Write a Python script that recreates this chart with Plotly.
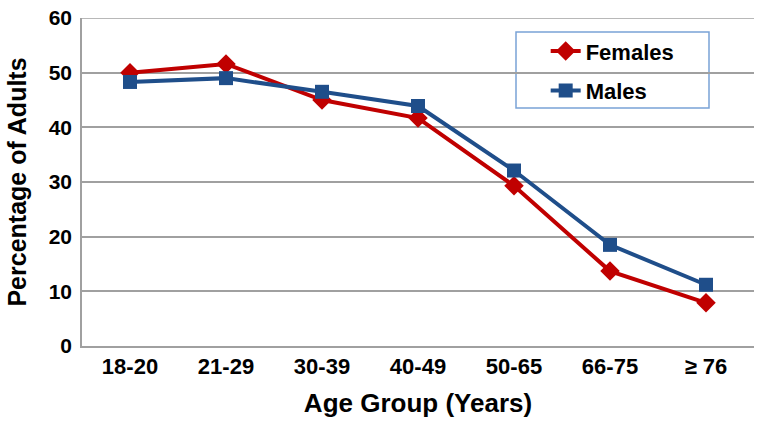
import plotly.graph_objects as go

age_groups = ["18-20", "21-29", "30-39", "40-49", "50-65", "66-75", "≥ 76"]
females = [50.0, 51.6, 45.0, 41.7, 29.3, 13.7, 7.9]
males = [48.3, 49.0, 46.5, 43.9, 32.1, 18.5, 11.2]
y_ticks = [0, 10, 20, 30, 40, 50, 60]

red = "#c00000"
blue = "#1f4e8a"
grid = "#a0a0a0"
font_family = "Liberation Sans, Arial, sans-serif"

fig = go.Figure()
fig.add_trace(go.Scatter(
    x=age_groups, y=females, name="Females", mode="lines+markers",
    line=dict(color=red, width=4),
    marker=dict(symbol="diamond", size=15, color=red),
    legendgroup="f",
))
fig.add_trace(go.Scatter(
    x=age_groups, y=males, name="Males", mode="lines+markers",
    line=dict(color=blue, width=4),
    marker=dict(symbol="square", size=14, color=blue),
    legendgroup="m",
))

fig.update_layout(
    width=764, height=424,
    margin=dict(l=82, r=10, t=18, b=78),
    paper_bgcolor="white", plot_bgcolor="white",
    font=dict(family=font_family, color="black"),
    showlegend=True,
    legend=dict(
        x=0.69, y=0.963, xanchor="left", yanchor="top",
        bgcolor="rgba(0,0,0,0)", borderwidth=0,
        font=dict(size=22, family=font_family, color="black", weight="bold"),
        tracegroupgap=8,
    ),
    xaxis=dict(
        type="category",
        range=[-0.5, 6.5],
        automargin=False,
        showgrid=False,
        showline=True, linecolor=grid, linewidth=1.5,
        ticks="", tickfont=dict(size=22, weight="bold"),
        title=dict(text="Age Group (Years)", font=dict(size=26, weight="bold"), standoff=16),
        zeroline=False,
    ),
    yaxis=dict(
        range=[0, 60],
        tickmode="array", tickvals=y_ticks,
        automargin=False,
        ticklabeloverflow="allow",
        showgrid=True, gridcolor=grid, gridwidth=1.5,
        showline=True, linecolor=grid, linewidth=1.5,
        ticks="", ticklabelstandoff=4,
        tickfont=dict(size=21, weight="bold"),
        title=dict(text="Percentage of Adults", font=dict(size=25, weight="bold"), standoff=15),
        zeroline=False,
    ),
    shapes=[
        dict(
            type="line", xref="paper", yref="y",
            x0=0, x1=1, y0=y_ticks[-1], y1=y_ticks[-1],
            line=dict(color=grid, width=1.5), layer="below",
        ),
        dict(
            type="rect", xref="paper", yref="paper",
            x0=(516 - 82) / 672, x1=(709 - 82) / 672,
            y0=(346 - 108) / 328, y1=(346 - 32) / 328,
            line=dict(color="#7aa3d6", width=1.5), fillcolor="white", layer="below",
        ),
    ],
)

fig.write_html(
    "out.html",
    config={"displayModeBar": False},
    post_script="document.body.style.margin='0';document.body.style.overflow='hidden';",
)
